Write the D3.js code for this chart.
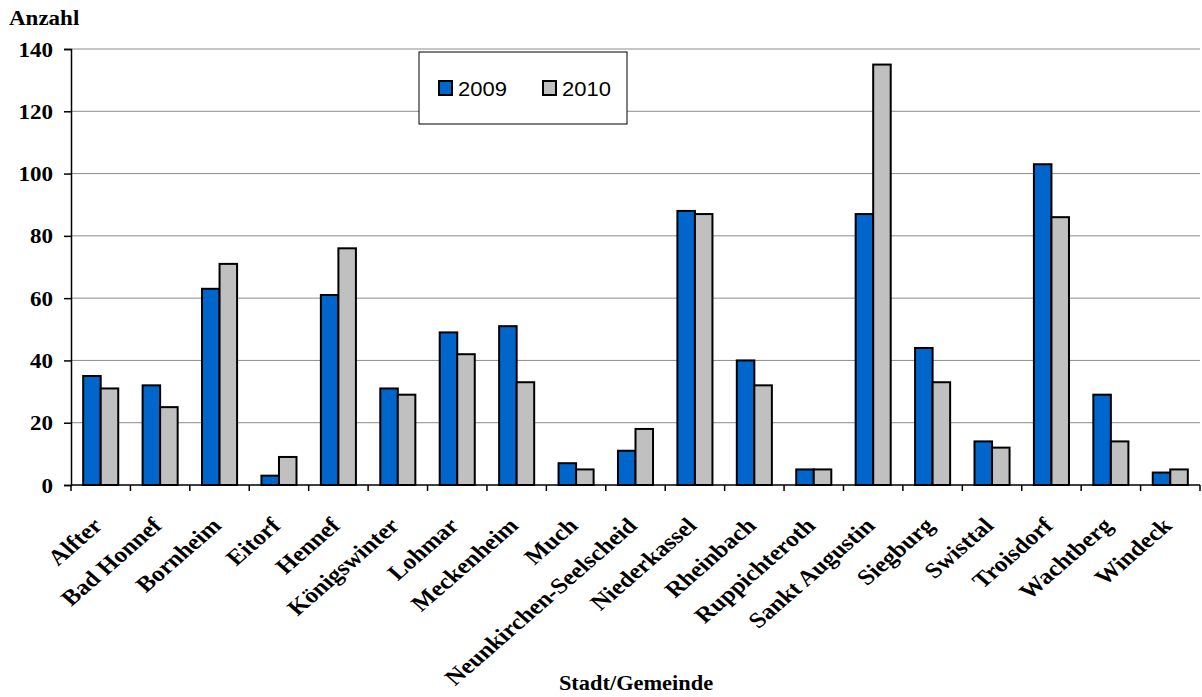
<!DOCTYPE html>
<html>
<head>
<meta charset="utf-8">
<script src="https://cdn.jsdelivr.net/npm/d3@7"></script>
<style>
  html, body { margin: 0; padding: 0; background: #fff; }
  svg { display: block; }
</style>
</head>
<body>
<script>
// Municipalities (Rhein-Sieg-Kreis) and counts per year
const categories = ["Alfter", "Bad Honnef", "Bornheim", "Eitorf", "Hennef", "Königswinter", "Lohmar",
  "Meckenheim", "Much", "Neunkirchen-Seelscheid", "Niederkassel", "Rheinbach", "Ruppichteroth",
  "Sankt Augustin", "Siegburg", "Swisttal", "Troisdorf", "Wachtberg", "Windeck"];
const values2009 = [35, 32, 63, 3, 61, 31, 49, 51, 7, 11, 88, 40, 5, 87, 44, 14, 103, 29, 4];
const values2010 = [31, 25, 71, 9, 76, 29, 42, 33, 5, 18, 87, 32, 5, 135, 33, 12, 86, 14, 5];
const seriesNames = ["2009", "2010"];
const yTicks = [0, 20, 40, 60, 80, 100, 120, 140];

const W = 1202, H = 697;
const margin = { left: 71, right: 2, top: 49, bottom: 212 };
const serif = "'Liberation Serif', 'Times New Roman', serif";
const sans = "'Liberation Sans', Arial, sans-serif";
const colors = ["#0066CC", "#C0C0C0"];
const sx = 1.15; // horizontal text stretch

const svg = d3.select("body").append("svg").attr("width", W).attr("height", H);

const x0 = d3.scaleBand().domain(categories).range([margin.left, W - margin.right]).padding(0);
const x1 = d3.scaleBand().domain(seriesNames)
  .range([x0.bandwidth() * 0.205, x0.bandwidth() * 0.795]).padding(0);
const y = d3.scaleLinear().domain([0, 140]).range([H - margin.bottom, margin.top]);

// horizontal gridlines
svg.append("g").selectAll("line").data(yTicks.filter(d => d > 0)).join("line")
  .attr("x1", margin.left).attr("x2", W - margin.right)
  .attr("y1", d => y(d)).attr("y2", d => y(d))
  .attr("stroke", "#8c8c8c").attr("stroke-width", 1);

// bars
const rows = categories.map((c, i) => ({ c, vals: [values2009[i], values2010[i]] }));
const groups = svg.append("g").selectAll("g").data(rows).join("g")
  .attr("transform", d => `translate(${x0(d.c)},0)`);
groups.selectAll("rect").data(d => d.vals.map((v, k) => ({ v, k })))
  .join("rect")
  .attr("x", d => x1(seriesNames[d.k]))
  .attr("width", x1.bandwidth())
  .attr("y", d => y(d.v))
  .attr("height", d => y(0) - y(d.v))
  .attr("fill", d => colors[d.k])
  .attr("stroke", "#000").attr("stroke-width", 2);

// y axis
const yAxis = svg.append("g").attr("transform", `translate(${margin.left},0)`)
  .call(d3.axisLeft(y).tickValues(yTicks).tickSize(7).tickPadding(10));
yAxis.select(".domain").attr("stroke", "#000").attr("stroke-width", 1.5);
yAxis.selectAll(".tick line").attr("stroke", "#000").attr("stroke-width", 1.5);
yAxis.selectAll(".tick text")
  .attr("x", null).attr("dy", null)
  .attr("transform", `translate(-18,7) scale(${sx},1)`)
  .attr("font-family", serif).attr("font-weight", "bold")
  .attr("font-size", 20).attr("fill", "#000");

// x axis: ticks at category boundaries
const xg = svg.append("g").attr("transform", `translate(0,${y(0)})`);
xg.append("line").attr("x1", margin.left).attr("x2", W - margin.right)
  .attr("stroke", "#000").attr("stroke-width", 1.5);
const bounds = categories.map(c => x0(c)).concat([x0(categories[categories.length - 1]) + x0.bandwidth()]);
xg.selectAll("line.tk").data(bounds).join("line").attr("class", "tk")
  .attr("x1", d => d).attr("x2", d => d).attr("y1", 0).attr("y2", 6)
  .attr("stroke", "#000").attr("stroke-width", 1.5);
xg.selectAll("text").data(categories).join("text")
  .attr("transform", d => `translate(${x0(d) + x0.bandwidth() / 2 + 3},${42}) scale(${sx},1) rotate(-45)`)
  .attr("text-anchor", "end")
  .attr("font-family", serif).attr("font-weight", "bold").attr("font-size", 22)
  .attr("fill", "#000")
  .text(d => d);

// axis titles
svg.append("text").attr("transform", `translate(9,25) scale(${sx},1)`)
  .attr("font-family", serif).attr("font-weight", "bold").attr("font-size", 20)
  .text("Anzahl");
svg.append("text").attr("transform", `translate(636,690) scale(1.12,1)`).attr("text-anchor", "middle")
  .attr("font-family", serif).attr("font-weight", "bold").attr("font-size", 20)
  .text("Stadt/Gemeinde");

// legend
const lg = svg.append("g").attr("transform", "translate(419,52)");
lg.append("rect").attr("width", 208).attr("height", 72)
  .attr("fill", "#fff").attr("stroke", "#000").attr("stroke-width", 1);
const items = lg.selectAll("g").data(seriesNames).join("g")
  .attr("transform", (d, i) => `translate(${20 + i * 104},29)`);
items.append("rect").attr("width", 13).attr("height", 14)
  .attr("fill", (d, i) => colors[i]).attr("stroke", "#000").attr("stroke-width", 2);
items.append("text").attr("transform", `translate(19,15) scale(1.1,1)`)
  .attr("font-family", sans).attr("font-size", 20).attr("fill", "#000")
  .text(d => d);
</script>
</body>
</html>
